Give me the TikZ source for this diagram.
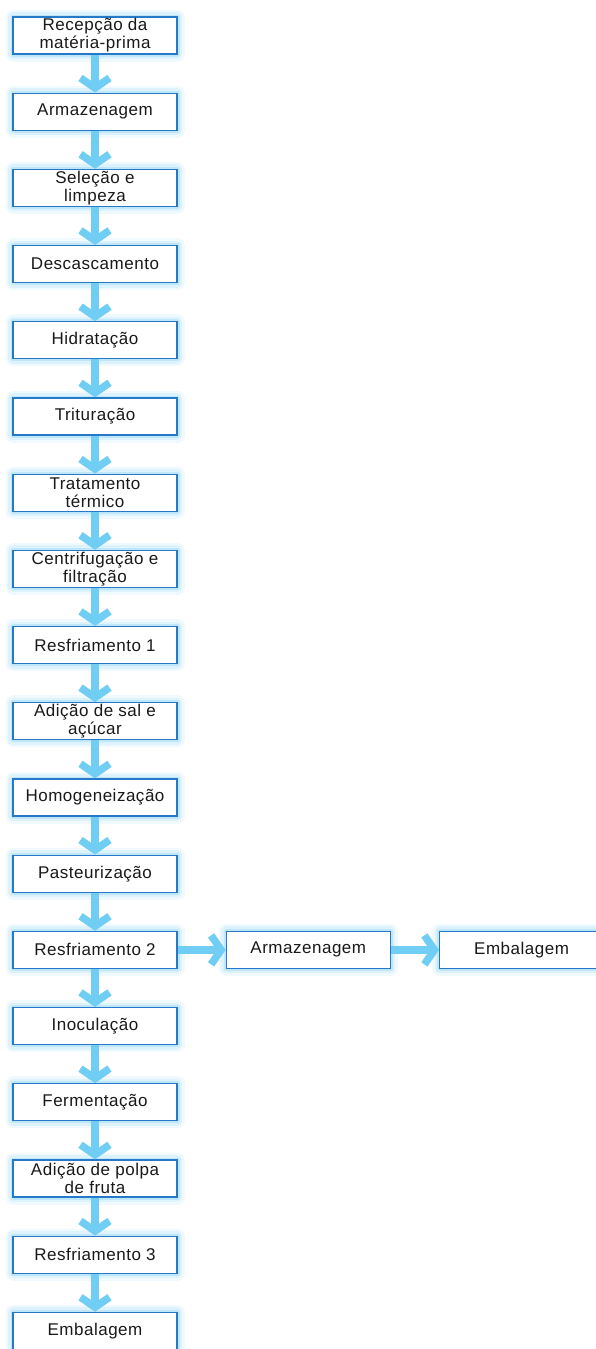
\documentclass[tikz,border=0pt]{standalone}
\usepackage{fontspec}
\setmainfont{Liberation Sans}[LetterSpace=3]
\usetikzlibrary{arrows.meta,positioning}
\definecolor{boxblue}{RGB}{38,120,200}
\definecolor{flowblue}{RGB}{112,205,243}
\definecolor{glowblue}{RGB}{150,215,245}
\definecolor{inkgray}{RGB}{25,25,25}
\tikzset{
  stepbox/.style={
    preaction={draw=glowblue,line width=15pt,draw opacity=0.14,line join=round},
    preaction={draw=glowblue,line width=10pt,draw opacity=0.22,line join=round},
    preaction={draw=glowblue,line width=5pt,draw opacity=0.4,line join=round},
    draw=boxblue, line width=1.3pt, fill=white,
    minimum width=164pt, minimum height=37pt, inner sep=0pt,
    align=center, text=inkgray,
    font=\fontsize{17}{18}\selectfont},
  flow/.style={draw=flowblue, line width=7.5pt,
    -{Straight Barb[length=10pt,width=29pt]}},
}
\begin{document}
\begin{tikzpicture}[x=1pt,y=-1pt]
  \useasboundingbox (0,0) rectangle (596,1349);
  % main column of process steps
  \foreach \name/\label [count=\i from 0] in {
      s1/{Recepção da\\matéria-prima},
      s2/{Armazenagem},
      s3/{Seleção e\\limpeza},
      s4/{Descascamento},
      s5/{Hidratação},
      s6/{Trituração},
      s7/{Tratamento\\térmico},
      s8/{Centrifugação e\\filtração},
      s9/{Resfriamento 1},
      s10/{Adição de sal e\\açúcar},
      s11/{Homogeneização},
      s12/{Pasteurização},
      s13/{Resfriamento 2},
      s14/{Inoculação},
      s15/{Fermentação},
      s16/{Adição de polpa\\de fruta},
      s17/{Resfriamento 3},
      s18/{Embalagem}}
    \node[stepbox] (\name) at (95,35.5+76.2*\i) {\label};
  % side branch after the second cooling
  \node[stepbox, right=48pt of s13] (r1) {Armazenagem};
  \node[stepbox, right=48pt of r1] (r2) {Embalagem};
  % connectors
  \foreach \a/\b in {s1/s2,s2/s3,s3/s4,s4/s5,s5/s6,s6/s7,s7/s8,s8/s9,
      s9/s10,s10/s11,s11/s12,s12/s13,s13/s14,s14/s15,s15/s16,s16/s17,s17/s18}
    \draw[flow] (\a.south) -- (\b.north);
  \draw[flow] (s13.east) -- (r1.west);
  \draw[flow] (r1.east) -- (r2.west);
\end{tikzpicture}
\end{document}
